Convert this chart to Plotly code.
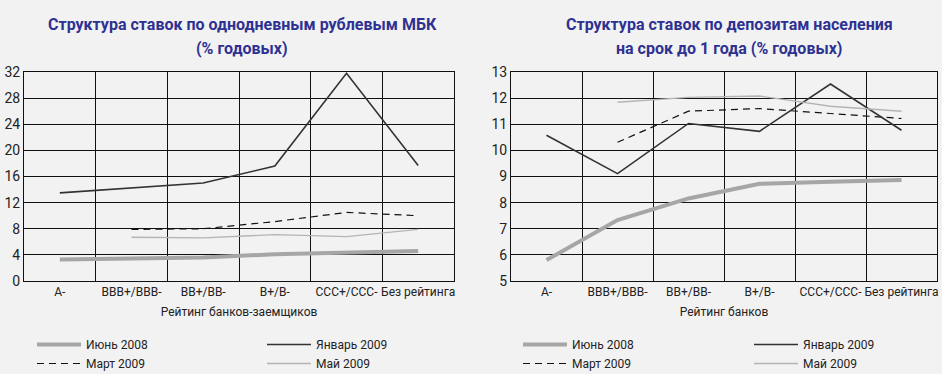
import plotly.graph_objects as go

categories = ["A-", "BBB+/BBB-", "BB+/BB-", "B+/B-", "CCC+/CCC-", "Без рейтинга"]
series_names = ["Июнь 2008", "Январь 2009", "Март 2009", "Май 2009"]

# Left chart: overnight ruble interbank loans
mbk_jun2008 = [3.3, 3.5, 3.6, 4.1, 4.4, 4.6]
mbk_jan2009 = [13.5, 14.3, 15.0, 17.6, 31.8, 17.7]
mbk_mar2009 = [None, 7.9, 8.0, 9.1, 10.5, 10.0]
mbk_may2009 = [None, 6.7, 6.6, 7.1, 6.8, 7.9]

# Right chart: retail deposits up to 1 year
dep_jun2008 = [5.8, 7.33, 8.16, 8.72, 8.8, 8.87]
dep_jan2009 = [10.58, 9.11, 11.03, 10.73, 12.54, 10.77]
dep_mar2009 = [None, 10.31, 11.5, 11.6, 11.4, 11.22]
dep_may2009 = [None, 11.84, 12.03, 12.08, 11.69, 11.5]

title_left = ["Структура ставок по однодневным рублевым МБК", "(% годовых)"]
title_right = ["Структура ставок по депозитам населения", "на срок до 1 года (% годовых)"]
xtitle_left = "Рейтинг банков-заемщиков"
xtitle_right = "Рейтинг банков"

BG = "#f2f2f2"
FONT = "Roboto, sans-serif"
TXT = "#222222"
styles = [
    dict(color="#a6a6a6", width=4),
    dict(color="#333333", width=1.6),
    dict(color="#111111", width=1.2, dash="7px,5px"),
    dict(color="#b4b4b4", width=1.4),
]
# legend column for each series: left column (Июнь, Март), right column (Январь, Май)
legend_col = [0, 1, 0, 1]

fig = go.Figure()
left_data = [mbk_jun2008, mbk_jan2009, mbk_mar2009, mbk_may2009]
right_data = [dep_jun2008, dep_jan2009, dep_mar2009, dep_may2009]
legend_ids = [["legend", "legend2"], ["legend3", "legend4"]]
for chart, (data, xa, ya) in enumerate([(left_data, "x", "y"), (right_data, "x2", "y2")]):
    for i in [0, 2, 1, 3]:
        fig.add_trace(go.Scatter(x=categories, y=data[i], name=series_names[i], mode="lines",
                                 line=styles[i], xaxis=xa, yaxis=ya,
                                 legend=legend_ids[chart][legend_col[i]],
                                 connectgaps=False))

W, H = 942, 374
ydom = [1 - 281 / H, 1 - 72 / H]
axis_common = dict(showline=True, linecolor="#111111", linewidth=1, mirror=True,
                   gridcolor="#111111", gridwidth=1, zeroline=False, ticks="")
xcommon = dict(axis_common, type="category", tickson="boundaries", showgrid=True,
               tickangle=0, range=[-0.5, 5.5],
               tickfont=dict(family=FONT, size=12, color=TXT),
               title_font=dict(family=FONT, size=12, color=TXT), title_standoff=9)
ycommon = dict(axis_common, tickfont=dict(family=FONT, size=14, color=TXT))

leg_common = dict(xanchor="left", yanchor="top", orientation="v", bgcolor="rgba(0,0,0,0)",
                  font=dict(family=FONT, size=12, color=TXT), tracegroupgap=0,
                  itemwidth=44)
ly = 1 - 330 / H
fig.update_layout(
    width=W, height=H,
    paper_bgcolor=BG, plot_bgcolor=BG,
    margin=dict(l=0, r=0, t=0, b=0, autoexpand=False),
    font=dict(family=FONT, size=12, color=TXT),
    xaxis=dict(xcommon, domain=[24 / W, 454 / W], anchor="y", title_text=xtitle_left),
    yaxis=dict(ycommon, domain=ydom, anchor="x", range=[0, 32], dtick=4, tick0=0),
    xaxis2=dict(xcommon, domain=[511 / W, 937 / W], anchor="y2", title_text=xtitle_right),
    yaxis2=dict(ycommon, domain=ydom, anchor="x2", range=[5, 13], dtick=1, tick0=5),
    legend=dict(leg_common, x=32 / W, y=ly),
    legend2=dict(leg_common, x=262 / W, y=ly),
    legend3=dict(leg_common, x=518 / W, y=ly),
    legend4=dict(leg_common, x=749 / W, y=ly),
    showlegend=True,
)

title_font = dict(family=FONT, size=16, color="#2e3191")
for lines, cx in [(title_left, 242), (title_right, 729)]:
    for k, s in enumerate(lines):
        fig.add_annotation(text="<b>%s</b>" % s,
                           x=cx / W, y=1 - (24 + 24 * k) / H, xref="paper", yref="paper",
                           xanchor="center", yanchor="middle", showarrow=False,
                           font=title_font)

fig.write_html("out.html", config={"displayModeBar": False},
               post_script="document.body.style.margin='0';document.body.style.background='%s';" % BG)
